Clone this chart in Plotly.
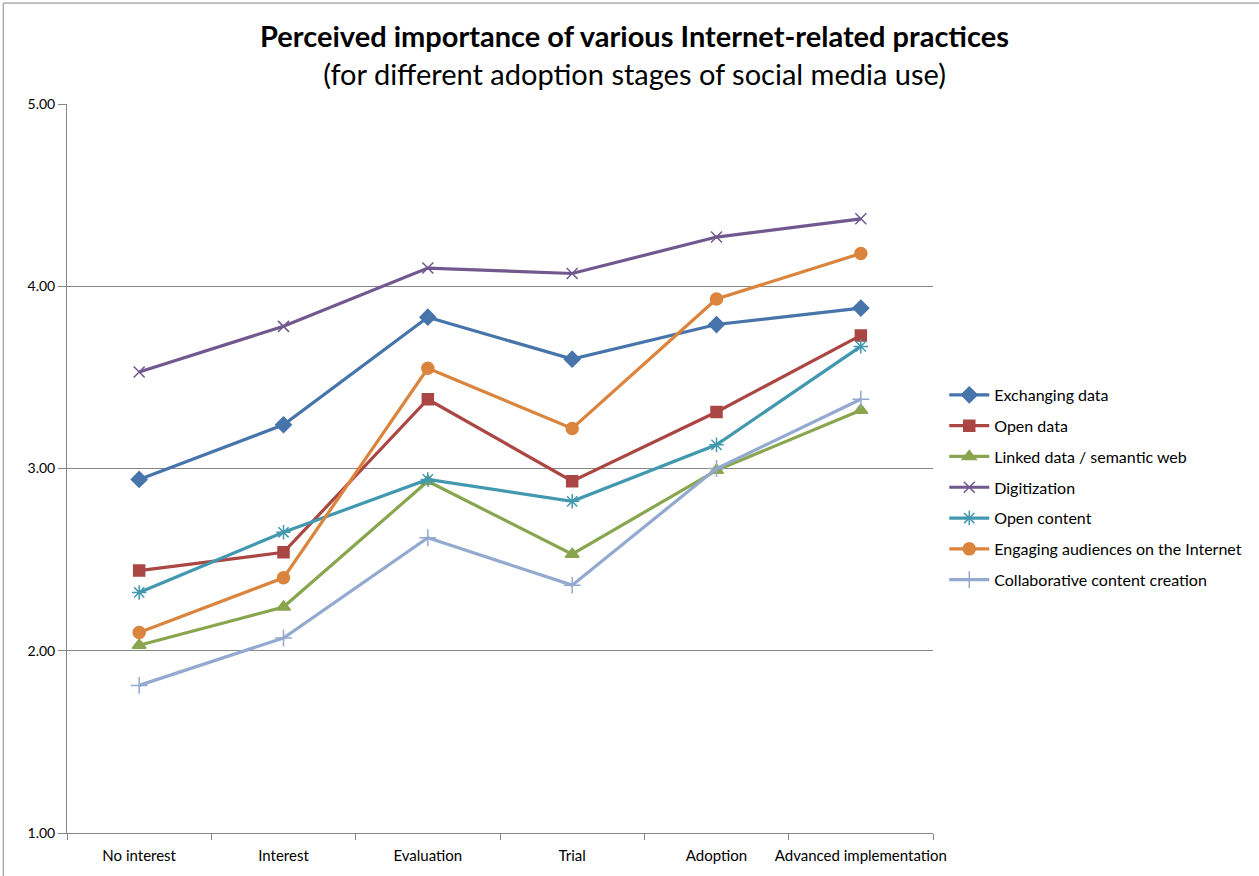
import plotly.graph_objects as go

categories = ["No interest", "Interest", "Evaluation", "Trial", "Adoption", "Advanced implementation"]

exchanging_data = [2.94, 3.24, 3.83, 3.60, 3.79, 3.88]
open_data = [2.44, 2.54, 3.38, 2.93, 3.31, 3.73]
linked_data = [2.03, 2.24, 2.93, 2.53, 2.99, 3.32]
digitization = [3.53, 3.78, 4.10, 4.07, 4.27, 4.37]
open_content = [2.32, 2.65, 2.94, 2.82, 3.13, 3.67]
engaging = [2.10, 2.40, 3.55, 3.22, 3.93, 4.18]
collaborative = [1.81, 2.07, 2.62, 2.36, 3.00, 3.38]

series = [
    ("Exchanging data", exchanging_data, "#4674AB", "diamond", 12),
    ("Open data", open_data, "#AA4643", "square", 11),
    ("Linked data / semantic web", linked_data, "#89A54E", "triangle-up", 12),
    ("Digitization", digitization, "#71588F", "x-thin", 11),
    ("Open content", open_content, "#4198AF", "asterisk", 12),
    ("Engaging audiences on the Internet", engaging, "#DB843D", "circle", 12),
    ("Collaborative content creation", collaborative, "#93A9CF", "cross-thin", 12),
]

fig = go.Figure()
for i, (name, vals, color, sym, sz) in enumerate(series):
    fig.add_trace(go.Scatter(
        x=categories, y=vals, name=name, mode="lines+markers",
        line=dict(color=color, width=3.2),
        marker=dict(symbol=sym, size=sz, color=color,
                    line=dict(color=color, width=1.5)),
        legendgroup=f"g{i}",
    ))

FONT = "Lato"
fig.update_layout(
    width=1259, height=876,
    margin=dict(l=67, r=322, t=104, b=43),
    paper_bgcolor="white", plot_bgcolor="white",
    font=dict(family=FONT, color="#000000", size=14),
    title=dict(
        text="<b>Perceived importance of various Internet-related practices</b><br>(for different adoption stages of social media use)",
        x=0.504, xanchor="center", y=0.946, yanchor="middle",
        font=dict(family=FONT, size=29, color="#000000"),
    ),
    showlegend=True,
    legend=dict(x=1.013, xanchor="left", y=0.474, yanchor="middle",
                font=dict(family=FONT, size=16, color="#000000"),
                tracegroupgap=7, itemwidth=40, bgcolor="rgba(0,0,0,0)"),
    xaxis=dict(
        type="category", range=[-0.5, 5.5], showgrid=False,
        showline=True, linecolor="#868686", linewidth=1,
        ticks="outside", tickson="boundaries", ticklen=6, tickcolor="#868686",
        tickfont=dict(size=15, family=FONT), tickangle=0, automargin=False,
        ticklabelstandoff=9, zeroline=False,
    ),
    yaxis=dict(
        range=[1, 5], tickvals=[1, 2, 3, 4, 5], tickformat=".2f",
        showgrid=True, gridcolor="#868686", gridwidth=1,
        showline=True, linecolor="#868686", linewidth=1,
        ticks="outside", ticklen=8, tickcolor="#868686",
        tickfont=dict(size=14, family=FONT), automargin=False, zeroline=False,
    ),
    shapes=[
        dict(type="line", xref="paper", yref="paper", x0=-0.0736, x1=1.5, y0=1.1385, y1=1.1385,
             line=dict(color="#868686", width=1)),
        dict(type="line", xref="paper", yref="paper", x0=-0.0736, x1=-0.0736, y0=-0.2, y1=1.1385,
             line=dict(color="#868686", width=1)),
    ],
)

fig.write_html("out.html")
